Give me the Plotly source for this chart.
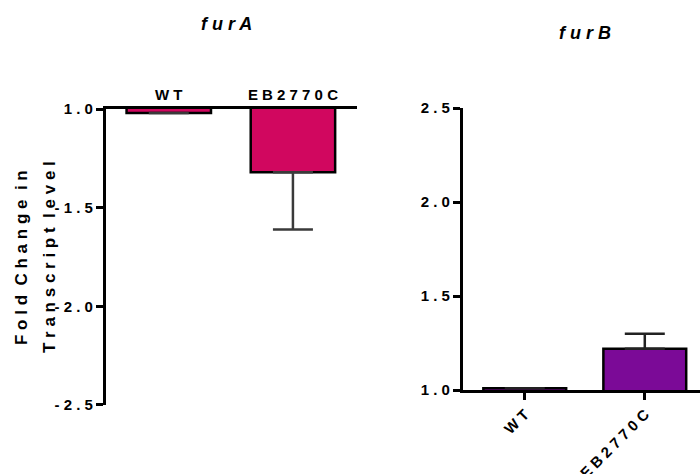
import plotly.graph_objects as go

# ---- data ----
categories = ["WT", "EB2770C"]

furA_values = [-1.02, -1.32]
furA_errors = [0.0, 0.29]

furB_values = [1.01, 1.22]
furB_errors = [0.0, 0.08]

furA_ticks = [-1.0, -1.5, -2.0, -2.5]
furA_ticklabels = ["1.0", "-1.5", "-2.0", "-2.5"]
furB_ticks = [1.0, 1.5, 2.0, 2.5]
furB_ticklabels = ["1.0", "1.5", "2.0", "2.5"]

FONT = "Liberation Sans"
pink = "#D1075F"
purple = "#7B0A97"
GAP = " "


def spaced(s, gap=GAP, word_gap="\u00a0\u00a0"):
    return word_gap.join(gap.join(list(w)) for w in s.split(" "))


def err_or_none(errs):
    return [e if e > 0 else None for e in errs]


def zero_or_none(errs):
    return [0 if e > 0 else None for e in errs]


fig = go.Figure()

fig.add_bar(
    x=categories, y=furA_values, xaxis="x", yaxis="y", width=0.68,
    marker=dict(color=pink, line=dict(color="black", width=2.5)),
    error_y=dict(type="data", symmetric=False,
                 array=zero_or_none(furA_errors),
                 arrayminus=err_or_none(furA_errors),
                 color="#3a3a3a", thickness=2.5, width=20),
)

fig.add_bar(
    x=categories, y=furB_values, xaxis="x2", yaxis="y2", width=0.69,
    marker=dict(color=purple, line=dict(color="black", width=2.5)),
    error_y=dict(type="data", symmetric=False,
                 array=err_or_none(furB_errors),
                 arrayminus=zero_or_none(furB_errors),
                 color="#222222", thickness=2.5, width=20),
)

tickfont = dict(family=FONT, size=15, color="black", weight="bold")
cat_text = [spaced(c) for c in categories]

fig.update_layout(
    width=700, height=474,
    margin=dict(l=0, r=0, t=0, b=0, autoexpand=False),
    paper_bgcolor="white", plot_bgcolor="white",
    showlegend=False,
    font=dict(family=FONT, color="black"),
    xaxis=dict(domain=[0.151, 0.51], range=[-0.508, 1.516], anchor="y", side="top",
               showline=True, linewidth=2.5, linecolor="black", ticks="",
               tickvals=categories, ticktext=cat_text, tickfont=tickfont,
               showgrid=False, zeroline=False, automargin=False),
    yaxis=dict(domain=[0.1456, 0.770], range=[-2.5, -1.0], anchor="x",
               showline=True, linewidth=2.5, linecolor="black",
               ticks="outside", ticklen=7, tickwidth=2.5, tickcolor="black",
               tickvals=furA_ticks,
               ticktext=[spaced(t) for t in furA_ticklabels],
               tickfont=tickfont,
               showgrid=False, zeroline=False, automargin=False),
    xaxis2=dict(domain=[0.661, 1.0], range=[-0.517, 1.46], anchor="y2",
                showline=True, linewidth=2.5, linecolor="black",
                ticks="outside", ticklen=7, tickwidth=2.5, tickcolor="black",
                tickangle=-45,
                tickvals=categories, ticktext=cat_text, tickfont=tickfont,
                showgrid=False, zeroline=False, automargin=False),
    yaxis2=dict(domain=[0.177, 0.772], range=[1.0, 2.5], anchor="x2",
                showline=True, linewidth=2.5, linecolor="black",
                ticks="outside", ticklen=7, tickwidth=2.5, tickcolor="black",
                tickvals=furB_ticks,
                ticktext=[spaced(t) for t in furB_ticklabels],
                tickfont=tickfont,
                showgrid=False, zeroline=False, automargin=False),
    annotations=[
        dict(text="<b><i>" + spaced("furA") + "</i></b>", x=226 / 700, y=1 - 24 / 474,
             xref="paper", yref="paper", xanchor="center", yanchor="middle",
             showarrow=False, font=dict(family=FONT, size=18, color="black")),
        dict(text="<b><i>" + spaced("furB") + "</i></b>", x=585 / 700, y=1 - 33 / 474,
             xref="paper", yref="paper", xanchor="center", yanchor="middle",
             showarrow=False, font=dict(family=FONT, size=18, color="black")),
        dict(text="<b>" + spaced("Fold Change in") + "</b>", x=21 / 700, y=1 - 258 / 474,
             xref="paper", yref="paper", xanchor="center", yanchor="middle",
             textangle=-90, showarrow=False,
             font=dict(family=FONT, size=17, color="black")),
        dict(text="<b>" + spaced("Transcript level") + "</b>", x=49 / 700, y=1 - 257 / 474,
             xref="paper", yref="paper", xanchor="center", yanchor="middle",
             textangle=-90, showarrow=False,
             font=dict(family=FONT, size=17, color="black")),
    ],
)

fig.write_html("out.html")
